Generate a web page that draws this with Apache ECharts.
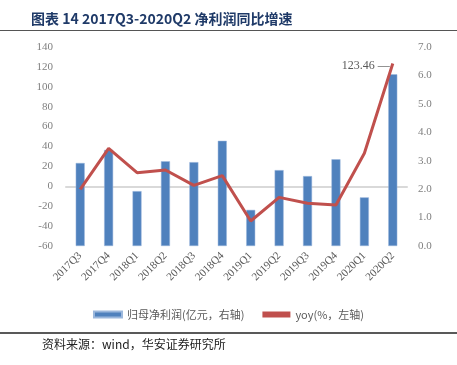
<!DOCTYPE html>
<html>
<head>
<meta charset="utf-8">
<script src="https://cdn.jsdelivr.net/npm/echarts@6/dist/echarts.min.js"></script>
<style>
  html, body { margin: 0; padding: 0; background: #fff; }
  #main { width: 457px; height: 365px; }
</style>
</head>
<body>
<div id="main"></div>
<script>
// 季度
var quarters = ['2017Q3', '2017Q4', '2018Q1', '2018Q2', '2018Q3', '2018Q4',
  '2019Q1', '2019Q2', '2019Q3', '2019Q4', '2020Q1', '2020Q2'];
// 归母净利润(右轴)
var profit = [2.92, 3.38, 1.93, 2.98, 2.95, 3.70, 1.27, 2.67, 2.46, 3.05, 1.71, 6.04];
// yoy(%, 左轴)
var yoy = [-3, 38.2, 13.7, 16.4, 1, 10.7, -34.9, -11.1, -17.1, -18.8, 33.2, 123.46];

var serif = "'Liberation Serif', 'Noto Sans CJK SC', serif";
var cjk = "'Noto Sans CJK SC', 'Liberation Serif', serif";

var myChart = echarts.init(document.getElementById('main'));

// 最后一个点标数值
var yoyData = yoy.map(function (v, i) {
  if (i === yoy.length - 1) {
    return {
      value: v,
      label: {
        show: true,
        position: 'left',
        distance: 3,
        offset: [0, 2],
        formatter: '{c} —',
        color: '#595959',
        fontFamily: serif,
        fontSize: 12
      }
    };
  }
  return v;
});

var option = {
  animation: false,
  backgroundColor: '#fff',
  title: {
    text: '图表 14 2017Q3-2020Q2 净利润同比增速',
    left: 26,
    top: 7,
    textStyle: {
      color: '#1f3a68',
      fontFamily: cjk,
      fontWeight: 'bold',
      fontSize: 14
    }
  },
  graphic: [
    { type: 'line', shape: { x1: 0, y1: 30.5, x2: 457, y2: 30.5 }, style: { stroke: '#555', lineWidth: 1 } },
    { type: 'line', shape: { x1: 0, y1: 333, x2: 457, y2: 333 }, style: { stroke: '#222', lineWidth: 1.5 } },
    {
      type: 'text', left: 42, top: 338,
      style: { text: '资料来源：wind，华安证券研究所', fill: '#222', font: '12px ' + cjk }
    }
  ],
  legend: {
    top: 304,
    left: 'center',
    itemGap: 18,
    itemWidth: 28,
    itemHeight: 6,
    textStyle: { color: '#595959', fontFamily: cjk, fontSize: 11 },
    data: [
      { name: '归母净利润(亿元，右轴)', icon: 'rect' },
      { name: 'yoy(%，左轴)', icon: 'rect', itemStyle: { color: '#c0504d' } }
    ]
  },
  grid: {
    left: 66,
    right: 50,
    top: 47,
    bottom: 119
  },
  xAxis: {
    type: 'category',
    data: quarters,
    boundaryGap: true,
    axisLine: { lineStyle: { color: '#d9d9d9', width: 2 } },
    axisTick: { show: false },
    axisLabel: {
      rotate: 45,
      interval: 0,
      margin: 8,
      color: '#595959',
      fontFamily: serif,
      fontSize: 11
    }
  },
  yAxis: [
    {
      type: 'value',
      min: -60,
      max: 140,
      interval: 20,
      position: 'left',
      axisLine: { show: false },
      axisTick: { show: false },
      splitLine: { show: false },
      axisLabel: { color: '#808080', fontFamily: serif, fontSize: 11, margin: 13 }
    },
    {
      type: 'value',
      min: 0,
      max: 7,
      interval: 1,
      position: 'right',
      axisLine: { show: false },
      axisTick: { show: false },
      splitLine: { show: false },
      axisLabel: {
        color: '#808080', fontFamily: serif, fontSize: 11, margin: 11,
        formatter: function (v) { return v.toFixed(1); }
      }
    }
  ],
  series: [
    {
      name: '归母净利润(亿元，右轴)',
      type: 'bar',
      yAxisIndex: 1,
      barWidth: 9,
      data: profit,
      itemStyle: { color: '#4f81bd', borderColor: '#9bb7dc', borderWidth: 0.5 }
    },
    {
      name: 'yoy(%，左轴)',
      type: 'line',
      yAxisIndex: 0,
      data: yoyData,
      symbol: 'circle',
      symbolSize: 0.1,
      showSymbol: true,
      lineStyle: { color: '#c0504d', width: 3 },
      itemStyle: { color: '#c0504d' }
    }
  ]
};

myChart.setOption(option);
window.addEventListener('resize', function () {
  myChart.resize();
});
</script>
</body>
</html>
